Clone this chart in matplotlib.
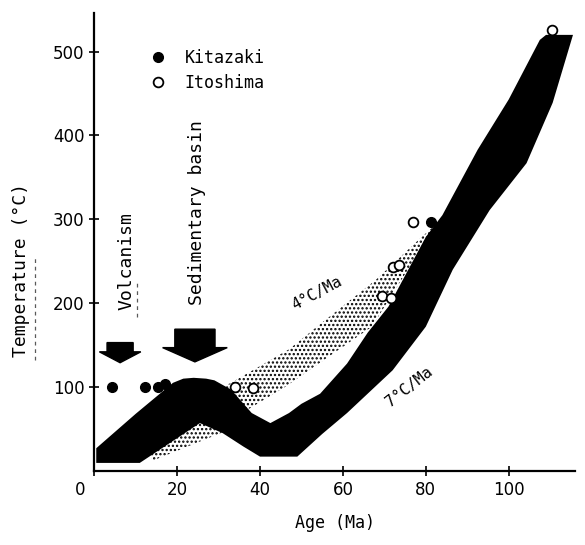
import matplotlib
matplotlib.use('Agg')
import matplotlib.pyplot as plt
import matplotlib.patches as mpatches
import matplotlib.transforms as mtransforms
from matplotlib.lines import Line2D

# black band (7 C/Ma path), traced edges
upper_age = [0.5, 10, 19, 21.5, 24, 27, 29, 33, 38, 42.5, 47, 50, 54.5, 61, 66, 71, 80, 84, 92.5, 100, 107.5, 109, 115.5]
upper_temp = [27, 68, 105, 110, 111, 110, 108, 97, 69, 57, 69, 80, 92, 128, 165, 196, 279, 305, 383, 443, 514, 520, 520]
lower_age = [0.5, 11, 25.5, 31, 36, 40, 49, 55, 61, 72, 80, 86.5, 95.4, 104.3, 110.6, 115.5]
lower_temp = [9.5, 9.5, 57, 45, 29, 17, 17, 44, 69, 120, 172, 240, 311, 367, 439, 520]

# stippled band (4 C/Ma path)
dot_upper_age = [12, 33, 47, 55, 68, 79, 82]
dot_upper_temp = [55, 105, 145, 177, 228, 279, 292]
dot_lower_age = [14, 31, 37, 46, 67, 82]
dot_lower_temp = [12, 46, 73, 100, 172, 290]

# samples
kitazaki_age = [4.3, 12.3, 15.4, 17, 81.2]
kitazaki_temp = [100, 100, 100, 104, 297]
itoshima_age = [34, 38.3, 69.5, 71.5, 72, 73.5, 77, 110.4]
itoshima_temp = [100, 99, 208, 206, 243, 246, 297, 526]

x_ticks = [0, 20, 40, 60, 80, 100]
y_ticks = [100, 200, 300, 400, 500]

mono = 'DejaVu Sans Mono'
plt.rcParams['hatch.linewidth'] = 1.1

fig = plt.figure(figsize=(5.85, 5.45), dpi=100)
ax = fig.add_axes([0.161, 0.136, 0.822, 0.840])

# stipple first, black band over it
ax.fill(dot_upper_age + dot_lower_age[::-1], dot_upper_temp + dot_lower_temp[::-1],
        facecolor='white', edgecolor='black', linewidth=0, hatch='....', zorder=1)
ax.fill(upper_age + lower_age[::-1], upper_temp + lower_temp[::-1],
        color='black', linewidth=0, zorder=2)

ax.plot(kitazaki_age, kitazaki_temp, 'o', color='black', ms=7, label='Kitazaki', zorder=4)
ax.plot(itoshima_age, itoshima_temp, 'o', mfc='white', mec='black', mew=1.3, ms=7,
        label='Itoshima', zorder=4)

# event arrows (volcanism, sedimentary basin)
ax.add_patch(mpatches.FancyArrow(6.25, 153, 0, -24, width=6.3, head_width=10,
                                 head_length=13, length_includes_head=True,
                                 color='black', zorder=3))
ax.add_patch(mpatches.FancyArrow(24.3, 169, 0, -39, width=9.7, head_width=15.6,
                                 head_length=17, length_includes_head=True,
                                 color='black', zorder=3))

ax.text(7.9, 250, 'Volcanism', rotation=90, ha='center', va='center', family=mono, fontsize=13)
ax.text(24.9, 308, 'Sedimentary basin', rotation=90, ha='center', va='center', family=mono, fontsize=13)
ax.text(53.7, 212, '4°C/Ma', rotation=28, ha='center', va='center', family=mono, fontsize=11)
ax.text(76, 100, '7°C/Ma', rotation=38, ha='center', va='center', family=mono, fontsize=11)

# faint dashed underlines from the scanned original
fig.add_artist(Line2D([0.234, 0.234], [0.418, 0.486], color='0.35', lw=0.9, ls=(0, (3, 3))))
fig.add_artist(Line2D([0.060, 0.060], [0.340, 0.530], color='0.35', lw=0.9, ls=(0, (3, 3))))

ax.legend(loc='upper left', bbox_to_anchor=(0.067, 0.955), frameon=False,
          prop={'family': mono, 'size': 12}, handletextpad=0.6, labelspacing=0.45,
          numpoints=1)

ax.set_xlim(0, 116)
ax.set_ylim(0, 546)
ax.set_xticks(x_ticks)
ax.set_yticks(y_ticks)
ax.tick_params(direction='inout', length=7, width=1.2, labelsize=12)
ax.spines['top'].set_visible(False)
ax.spines['right'].set_visible(False)
ax.spines['left'].set_linewidth(1.6)
ax.spines['bottom'].set_linewidth(1.6)

# the "0" sits left of the axis in the original
zero = ax.get_xticklabels()[0]
zero.set_transform(zero.get_transform() + mtransforms.ScaledTranslation(-14 / 100, 0, fig.dpi_scale_trans))

ax.set_xlabel('Age (Ma)', family=mono, fontsize=12)
ax.set_ylabel('Temperature (°C)', family=mono, fontsize=13)
ax.xaxis.set_label_coords(0.5, -0.094)
ax.yaxis.set_label_coords(-0.133, 0.439)

plt.savefig('out.png', dpi=100)
